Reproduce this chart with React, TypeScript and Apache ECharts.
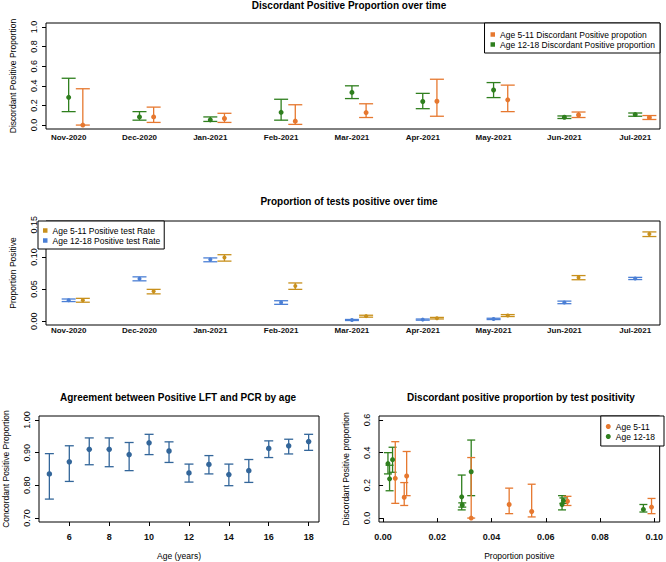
import React, { useEffect, useRef } from 'react';
import * as echarts from 'echarts';

// ---------- data ----------
const months = ['Nov-2020', 'Dec-2020', 'Jan-2021', 'Feb-2021', 'Mar-2021', 'Apr-2021', 'May-2021', 'Jun-2021', 'Jul-2021'];

// Discordant positive proportion over time
const disc511 = [0.0, 0.083, 0.067, 0.04, 0.127, 0.243, 0.257, 0.103, 0.077];
const disc511Lo = [0.0, 0.027, 0.027, 0.007, 0.077, 0.09, 0.137, 0.077, 0.057];
const disc511Hi = [0.37, 0.183, 0.12, 0.207, 0.217, 0.467, 0.407, 0.133, 0.097];
const disc1218 = [0.283, 0.083, 0.053, 0.13, 0.333, 0.24, 0.357, 0.08, 0.107];
const disc1218Lo = [0.137, 0.05, 0.037, 0.05, 0.27, 0.167, 0.28, 0.067, 0.09];
const disc1218Hi = [0.477, 0.137, 0.083, 0.263, 0.4, 0.323, 0.433, 0.093, 0.123];

// Proportion of tests positive over time
const rate511 = [0.0325, 0.0465, 0.099, 0.0548, 0.0078, 0.0045, 0.0087, 0.068, 0.1356];
const rate511Lo = [0.0295, 0.0425, 0.0935, 0.0495, 0.0062, 0.0034, 0.0072, 0.0645, 0.1318];
const rate511Hi = [0.0355, 0.0495, 0.1035, 0.0595, 0.0092, 0.0058, 0.0102, 0.071, 0.139];
const rate1218 = [0.0325, 0.066, 0.096, 0.029, 0.0018, 0.0024, 0.0035, 0.0292, 0.0665];
const rate1218Lo = [0.0305, 0.0628, 0.0925, 0.0262, 0.001, 0.0015, 0.0025, 0.0272, 0.0648];
const rate1218Hi = [0.0345, 0.069, 0.0985, 0.0318, 0.0026, 0.0033, 0.0045, 0.0312, 0.0682];

// Agreement between positive LFT and PCR by age
const ages = [5, 6, 7, 8, 9, 10, 11, 12, 13, 14, 15, 16, 17, 18];
const concord = [0.835, 0.872, 0.91, 0.91, 0.894, 0.93, 0.905, 0.838, 0.864, 0.833, 0.845, 0.913, 0.921, 0.934];
const concordLo = [0.758, 0.812, 0.863, 0.857, 0.845, 0.894, 0.87, 0.81, 0.835, 0.799, 0.809, 0.885, 0.896, 0.907];
const concordHi = [0.897, 0.921, 0.945, 0.945, 0.931, 0.956, 0.933, 0.865, 0.891, 0.865, 0.879, 0.936, 0.941, 0.956];

// tick labels
const discTicks = [0, 0.2, 0.4, 0.6, 0.8, 1.0];
const rateTicks = [0, 0.05, 0.1, 0.15];
const ageTicks = [6, 8, 10, 12, 14, 16, 18];
const concordTicks = [0.7, 0.8, 0.9, 1.0];
const posTicks = [0, 0.02, 0.04, 0.06, 0.08, 0.1];
const discTicks2 = [0, 0.2, 0.4, 0.6];
const monthPos = months.map((_, i) => i + 1);

// ---------- style ----------
const ORANGE = '#E6782F';
const GREEN = '#2F7F1E';
const GOLD = '#C8901C';
const BLUE = '#4B7FD5';
const STEEL = '#33669A';
const FONT = '"Liberation Sans", Arial, sans-serif';
const OFFSET = 0.2;

function errorBars(xAxisIndex: number, yAxisIndex: number, data: number[][], color: string, capHalf: number) {
  return {
    type: 'custom',
    xAxisIndex,
    yAxisIndex,
    clip: true,
    silent: true,
    data,
    encode: { x: 0, y: [1, 2] },
    z: 2,
    renderItem: (_params: any, api: any) => {
      const x = api.value(0);
      const a = api.coord([x, api.value(1)]);
      const b = api.coord([x, api.value(2)]);
      const style = { stroke: color, lineWidth: 1.3, fill: 'none' };
      return {
        type: 'group',
        children: [
          { type: 'line', shape: { x1: a[0], y1: a[1], x2: b[0], y2: b[1] }, style },
          { type: 'line', shape: { x1: a[0] - capHalf, y1: a[1], x2: a[0] + capHalf, y2: a[1] }, style },
          { type: 'line', shape: { x1: b[0] - capHalf, y1: b[1], x2: b[0] + capHalf, y2: b[1] }, style },
        ],
      };
    },
  };
}

function points(name: string, xAxisIndex: number, yAxisIndex: number, data: number[][], color: string, size: number) {
  return {
    type: 'scatter',
    name,
    xAxisIndex,
    yAxisIndex,
    data,
    symbol: 'circle',
    symbolSize: size,
    itemStyle: { color, opacity: 1 },
    clip: true,
    z: 3,
    silent: true,
  };
}

function yAxis(gridIndex: number, min: number, max: number, ticks: number[], digits: number, name: string) {
  return {
    type: 'value',
    gridIndex,
    min,
    max,
    name,
    nameLocation: 'middle',
    nameGap: 29,
    nameTextStyle: { fontSize: 8.5, color: '#000', fontFamily: FONT },
    axisLine: { show: false },
    splitLine: { show: false },
    axisTick: { show: true, length: 4, customValues: ticks, lineStyle: { color: '#000', width: 1 } },
    axisLabel: {
      customValues: ticks,
      rotate: 90,
      margin: 8,
      fontSize: 9,
      color: '#000',
      fontFamily: FONT,
      formatter: (v: number) => v.toFixed(digits),
    },
  };
}

function monthAxis(gridIndex: number, margin: number) {
  return {
    type: 'value',
    gridIndex,
    min: 0.68,
    max: 9.35,
    axisLine: { show: false },
    splitLine: { show: false },
    axisTick: { show: false },
    axisLabel: {
      customValues: monthPos,
      margin,
      fontSize: 8,
      fontWeight: 'bold',
      color: '#111',
      fontFamily: FONT,
      formatter: (v: number) => months[Math.round(v) - 1] ?? '',
    },
  };
}

function numAxis(gridIndex: number, min: number, max: number, ticks: number[], digits: number, name: string) {
  return {
    type: 'value',
    gridIndex,
    min,
    max,
    name,
    nameLocation: 'middle',
    nameGap: 29,
    nameTextStyle: { fontSize: 8.5, color: '#000', fontFamily: FONT },
    axisLine: { show: false },
    splitLine: { show: false },
    axisTick: { show: true, length: 4, customValues: ticks, lineStyle: { color: '#000', width: 1 } },
    axisLabel: {
      customValues: ticks,
      margin: 10,
      fontSize: 9,
      fontWeight: 'bold',
      color: '#111',
      fontFamily: FONT,
      formatter: (v: number) => v.toFixed(digits),
    },
  };
}

const legendBase = {
  orient: 'vertical',
  borderColor: '#000',
  borderWidth: 1,
  backgroundColor: '#fff',
  itemGap: 1,
  selectedMode: false,
  textStyle: { fontSize: 8.5, color: '#000', fontFamily: FONT },
};

export default function App() {
  const ref = useRef<HTMLDivElement>(null);

  useEffect(() => {
    if (!ref.current) return;
    const chart = echarts.init(ref.current, null, { renderer: 'svg' });

    const n511 = 'Age 5-11 Discordant Positive propotion';
    const n1218 = 'Age 12-18 Discordant Positive proportion';
    const r511 = 'Age 5-11 Positive test Rate';
    const r1218 = 'Age 12-18 Positive test Rate';

    const option: any = {
      animation: false,
      backgroundColor: '#fff',
      textStyle: { fontFamily: FONT },
      title: [
        { text: 'Discordant Positive Proportion over time', left: 349, top: 0, textAlign: 'center', padding: 0,
          textStyle: { fontSize: 10, fontWeight: 'bold', color: '#000', fontFamily: FONT } },
        { text: 'Proportion of tests positive over time', left: 349, top: 196, textAlign: 'center', padding: 0,
          textStyle: { fontSize: 10, fontWeight: 'bold', color: '#000', fontFamily: FONT } },
        { text: 'Agreement between Positive LFT and PCR by age', left: 178, top: 392, textAlign: 'center', padding: 0,
          textStyle: { fontSize: 10, fontWeight: 'bold', color: '#000', fontFamily: FONT } },
        { text: 'Discordant positive proportion by test positivity', left: 521, top: 392, textAlign: 'center', padding: 0,
          textStyle: { fontSize: 10, fontWeight: 'bold', color: '#000', fontFamily: FONT } },
      ],
      legend: [
        { ...legendBase, right: 6, top: 23, padding: [7, 5, 4, 6], icon: 'rect', itemWidth: 4.5, itemHeight: 4.5,
          data: [n511, n1218] },
        { ...legendBase, left: 38, top: 221, padding: [5, 4, 4, 5], icon: 'rect', itemWidth: 4.5, itemHeight: 4.5,
          data: [r511, r1218] },
        { ...legendBase, right: 2, top: 416, padding: [6, 9, 5, 5], icon: 'circle', itemWidth: 5, itemHeight: 5,
          data: ['Age 5-11', 'Age 12-18'] },
      ],
      grid: [
        { left: 38, top: 23, width: 622, height: 106, show: true, borderColor: '#000', borderWidth: 1, backgroundColor: 'transparent' },
        { left: 38, top: 221, width: 622, height: 104, show: true, borderColor: '#000', borderWidth: 1, backgroundColor: 'transparent' },
        { left: 38, top: 416, width: 281, height: 106, show: true, borderColor: '#000', borderWidth: 1, backgroundColor: 'transparent' },
        { left: 379, top: 416, width: 285, height: 106, show: true, borderColor: '#000', borderWidth: 1, backgroundColor: 'transparent' },
      ],
      xAxis: [
        monthAxis(0, 4),
        monthAxis(1, 1),
        numAxis(2, 4.48, 18.52, ageTicks, 0, 'Age (years)'),
        numAxis(3, -0.0015, 0.102, posTicks, 2, 'Proportion positive'),
      ],
      yAxis: [
        yAxis(0, -0.04, 1.04, discTicks, 1, 'Discordant Positive Proportion'),
        yAxis(1, -0.006, 0.156, rateTicks, 2, 'Proportion Positive'),
        yAxis(2, 0.688, 1.012, concordTicks, 2, 'Concordant Positive Proportion'),
        yAxis(3, -0.024, 0.624, discTicks2, 1, 'Discordant Positive proportion'),
      ],
      series: [
        // top panel
        errorBars(0, 0, months.map((_, i) => [i + 1, disc1218Lo[i], disc1218Hi[i]]), GREEN, 7),
        errorBars(0, 0, months.map((_, i) => [i + 1 + OFFSET, disc511Lo[i], disc511Hi[i]]), ORANGE, 7),
        points(n511, 0, 0, months.map((_, i) => [i + 1 + OFFSET, disc511[i]]), ORANGE, 5),
        points(n1218, 0, 0, months.map((_, i) => [i + 1, disc1218[i]]), GREEN, 5),
        // middle panel
        errorBars(1, 1, months.map((_, i) => [i + 1, rate1218Lo[i], rate1218Hi[i]]), BLUE, 7),
        errorBars(1, 1, months.map((_, i) => [i + 1 + OFFSET, rate511Lo[i], rate511Hi[i]]), GOLD, 7),
        points(r511, 1, 1, months.map((_, i) => [i + 1 + OFFSET, rate511[i]]), GOLD, 4),
        points(r1218, 1, 1, months.map((_, i) => [i + 1, rate1218[i]]), BLUE, 4),
        // bottom left
        errorBars(2, 2, ages.map((a, i) => [a, concordLo[i], concordHi[i]]), STEEL, 4.5),
        points('Concordant', 2, 2, ages.map((a, i) => [a, concord[i]]), STEEL, 5.5),
        // bottom right
        errorBars(3, 3, months.map((_, i) => [rate1218[i], disc1218Lo[i], disc1218Hi[i]]), GREEN, 4),
        errorBars(3, 3, months.map((_, i) => [rate511[i], disc511Lo[i], disc511Hi[i]]), ORANGE, 4),
        points('Age 5-11', 3, 3, months.map((_, i) => [rate511[i], disc511[i]]), ORANGE, 5),
        points('Age 12-18', 3, 3, months.map((_, i) => [rate1218[i], disc1218[i]]), GREEN, 5),
      ],
    };

    chart.setOption(option);
    return () => chart.dispose();
  }, []);

  return (
    <div
      ref={ref}
      style={{ position: 'fixed', left: 0, top: 0, width: 666, height: 562, background: '#fff' }}
    />
  );
}
